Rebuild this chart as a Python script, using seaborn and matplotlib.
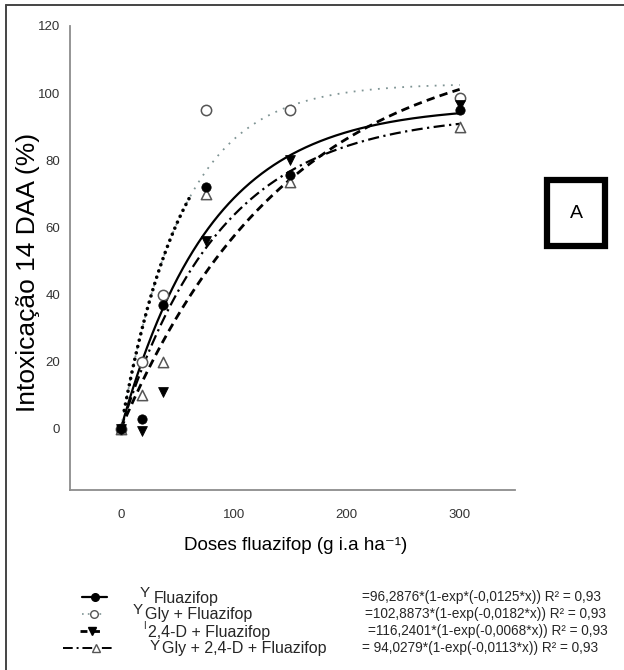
import numpy as np
import matplotlib
matplotlib.use('Agg')
import matplotlib.pyplot as plt
import seaborn as sns
from matplotlib.lines import Line2D
from matplotlib.patches import Rectangle

# data
doses = [0, 18.75, 37.5, 75, 150, 300]
fluazifop = [0, 3, 37, 72, 75.5, 95]
gly_fluazifop = [0, 20, 40, 95, 95, 98.5]
d24_fluazifop = [0, -0.5, 11, 56, 80, 96.5]
gly_d24_fluazifop = [0, 10, 20, 70, 73.5, 90]

# fitted models shown in the legend: y = a*(1-exp(-b*x))
fit_a = [96.2876, 102.8873, 116.2401, 94.0279]
fit_b = [0.0125, 0.0182, 0.0068, 0.0113]
eq_texts = ['=96,2876*(1-exp*(-0,0125*x)) R\u00b2 = 0,93',
            '=102,8873*(1-exp(-0,0182*x)) R\u00b2 = 0,93',
            '=116,2401*(1-exp(-0,0068*x)) R\u00b2 = 0,93',
            '= 94,0279*(1-exp(-0,0113*x)) R\u00b2 = 0,93']
names = ['Fluazifop', 'Gly + Fluazifop', '2,4-D + Fluazifop', 'Gly + 2,4-D + Fluazifop']
prefixes = ['Y', 'Y', 'I', 'Y']

sns.set_style('white')
plt.rcParams['font.family'] = ['Liberation Sans', 'DejaVu Sans']

fig = plt.figure(figsize=(6.24, 6.7), dpi=100)
ax = fig.add_axes([0.1122, 0.2687, 0.7131, 0.6925])

xs = np.linspace(0, 300, 400)
curves = [a * (1 - np.exp(-b * xs)) for a, b in zip(fit_a, fit_b)]

sns.lineplot(x=xs, y=curves[0], ax=ax, color='black', linewidth=1.6)
sns.lineplot(x=xs, y=curves[1], ax=ax, color='#7f9494', linewidth=1.3,
             linestyle=(0, (1, 3.5)))
# heavier dots near the origin on the Gly curve
x_early = xs[(xs > 3) & (xs < 63)]
y_early = fit_a[1] * (1 - np.exp(-fit_b[1] * x_early))
ax.plot(x_early, y_early, color='black', linewidth=2.6, linestyle=(0, (0.01, 1.8)),
        dash_capstyle='round')
sns.lineplot(x=xs, y=curves[2], ax=ax, color='black', linewidth=2.0,
             linestyle=(0, (3, 1.9)))
sns.lineplot(x=xs, y=curves[3], ax=ax, color='black', linewidth=1.6,
             linestyle=(0, (5, 2, 1, 2)))

sns.scatterplot(x=doses, y=fluazifop, ax=ax, marker='o', color='black', s=45,
                edgecolor='black', zorder=5)
sns.scatterplot(x=doses, y=gly_fluazifop, ax=ax, marker='o', facecolor='white', s=55,
                edgecolor='#555555', linewidth=1.1, zorder=4)
sns.scatterplot(x=doses, y=d24_fluazifop, ax=ax, marker='v', color='black', s=50,
                edgecolor='black', zorder=5)
sns.scatterplot(x=doses, y=gly_d24_fluazifop, ax=ax, marker='^', facecolor='white', s=55,
                edgecolor='#555555', linewidth=1.1, zorder=4)

ax.set_xlim(-45, 349)
ax.set_ylim(-18.2, 120)
ax.set_xticks([0, 100, 200, 300])
ax.set_yticks([0, 20, 40, 60, 80, 100, 120])
for s in ['top', 'right']:
    ax.spines[s].set_visible(False)
for s in ['left', 'bottom']:
    ax.spines[s].set_color('#8c8c8c')
    ax.spines[s].set_linewidth(1.3)
ax.tick_params(axis='both', direction='out', length=3, color='#8c8c8c', width=1.2,
               labelsize=9.5, labelcolor='#333333')
ax.tick_params(axis='x', pad=11)
ax.tick_params(axis='y', pad=4)
ax.set_xlabel('')
ax.set_ylabel('')

fig.text(0.474, 1 - 546 / 670, 'Doses fluazifop (g i.a ha\u207b\u00b9)', ha='center', va='center',
         fontsize=13.5, color='black')
fig.text(28 / 624, 1 - 272 / 670, 'Intoxica\u00e7\u00e3o 14 DAA (%)', ha='center', va='center',
         rotation=90, fontsize=19, color='black')

# panel letter box
fig.patches.append(Rectangle((547 / 624, 1 - 246 / 670), 58 / 624, 66 / 670,
                             transform=fig.transFigure, fill=False,
                             edgecolor='black', linewidth=4.5))
fig.text(576 / 624, 1 - 213 / 670, 'A', ha='center', va='center', fontsize=14, color='black')

# outer frame (top and left edges)
fig.add_artist(Line2D([6 / 624, 1], [1 - 5 / 670, 1 - 5 / 670], transform=fig.transFigure,
                      color='#444444', linewidth=1.4))
fig.add_artist(Line2D([6 / 624, 6 / 624], [0, 1 - 5 / 670], transform=fig.transFigure,
                      color='#444444', linewidth=1.4))

# legend drawn by hand
row_y = [597, 614, 631, 648]
sym_x = [(82, 107, 95), (82, 105, 94), (80, 103, 92), (63, 115, 96)]
line_kw = [dict(color='black', linewidth=1.6, linestyle='-'),
           dict(color='#7f9494', linewidth=1.2, linestyle=(0, (1, 2.5))),
           dict(color='black', linewidth=2.0, linestyle=(0, (2.5, 2))),
           dict(color='black', linewidth=1.4, linestyle=(0, (5, 2, 1, 2)))]
mark_kw = [dict(marker='o', markersize=5.5, markerfacecolor='black', markeredgecolor='black'),
           dict(marker='o', markersize=5.5, markerfacecolor='white', markeredgecolor='#555555'),
           dict(marker='v', markersize=6, markerfacecolor='black', markeredgecolor='black'),
           dict(marker='^', markersize=6, markerfacecolor='white', markeredgecolor='#555555')]
pre_x = [140, 133, 143, 150]
pre_raise = [4, 4, 5, 2]
name_x = [154, 145, 148, 162]
eq_x = [362, 365, 368, 362]
for i in range(4):
    yy = 1 - row_y[i] / 670
    x0, x1, xm = sym_x[i]
    fig.add_artist(Line2D([x0 / 624, x1 / 624], [yy, yy], transform=fig.transFigure, **line_kw[i]))
    fig.add_artist(Line2D([xm / 624], [yy], transform=fig.transFigure, linestyle='none', **mark_kw[i]))
    if prefixes[i] == 'I':
        fig.text(pre_x[i] / 624, yy + pre_raise[i] / 670, 'I', ha='left', va='center', fontsize=7)
    else:
        fig.text(pre_x[i] / 624, yy + pre_raise[i] / 670, 'Y', ha='left', va='center', fontsize=11)
    fig.text(name_x[i] / 624, yy - 1 / 670, names[i], ha='left', va='center', fontsize=11.5)
    fig.text(eq_x[i] / 624, yy, eq_texts[i], ha='left', va='center', fontsize=9.8)

fig.savefig('out.png', dpi=100, facecolor='white')
